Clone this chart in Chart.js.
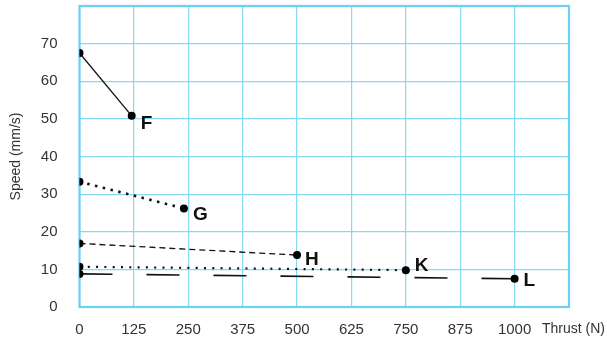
<!DOCTYPE html>
<html>
<head>
<meta charset="utf-8">
<script src="https://cdn.jsdelivr.net/npm/chart.js@4.4.0/dist/chart.umd.min.js"></script>
<style>
  html, body { margin: 0; padding: 0; background: #fff; }
  #wrap { width: 607px; height: 343px; }
</style>
</head>
<body>
<div id="wrap"><canvas id="speedChart"></canvas></div>
<script>
// data
var seriesNames = ["F", "G", "H", "K", "L"];
var thrustF = [0, 120];
var speedF = [67.5, 50.8];
var thrustG = [0, 240];
var speedG = [33.3, 26.2];
var thrustH = [0, 500];
var speedH = [16.9, 13.8];
var thrustK = [0, 750];
var speedK = [10.7, 9.8];
var thrustL = [0, 1000];
var speedL = [8.8, 7.5];
var xTicks = [0, 125, 250, 375, 500, 625, 750, 875, 1000];

var FONT = "'Liberation Sans', Arial, sans-serif";
var gridBlue = '#86d8f7';
var frameBlue = '#6ccff4';

function pts(xs, ys) {
    return xs.map(function (x, i) { return { x: x, y: ys[i] }; });
}

// line style for each series, and where its letter sits next to the end point
var lineStyles = {
    F: { dash: [], width: 1.3, lx: 9, ly: 8 },
    G: { dash: [2.5, 5.5], width: 2.6, lx: 9, ly: 6 },
    H: { dash: [6, 4], width: 1.3, lx: 8, ly: 5 },
    K: { dash: [2, 6.3], width: 2.2, lx: 9, ly: -4 },
    L: { dash: [33, 34], width: 1.6, lx: 9, ly: 2 }
};
var allData = { F: pts(thrustF, speedF), G: pts(thrustG, speedG), H: pts(thrustH, speedH), K: pts(thrustK, speedK), L: pts(thrustL, speedL) };

var endLabels = {
    id: 'endLabels',
    afterDatasetsDraw: function (chart) {
        var c = chart.ctx;
        c.save();
        c.font = "bold 19px 'Liberation Sans', Arial, sans-serif";
        c.fillStyle = '#111';
        c.textBaseline = 'middle';
        chart.data.datasets.forEach(function (ds, i) {
            var meta = chart.getDatasetMeta(i);
            var last = meta.data[meta.data.length - 1];
            var st = lineStyles[ds.label];
            c.fillText(ds.label, last.x + st.lx, last.y + st.ly);
        });
        // axis caption in place of the last x tick
        c.font = "14px " + FONT;
        c.fillStyle = '#333';
        c.textAlign = 'left';
        c.fillText('Thrust (N)', chart.chartArea.right - 27, chart.chartArea.bottom + 22);
        c.restore();
    }
};

var frame = {
    id: 'frame',
    beforeDatasetsDraw: function (chart) {
        var a = chart.chartArea, c = chart.ctx;
        c.save();
        c.strokeStyle = frameBlue;
        c.lineWidth = 2.2;
        c.strokeRect(a.left, a.top, a.right - a.left, a.bottom - a.top);
        c.restore();
    }
};

function noEdgePadding(scale) {
    scale.paddingTop = 0;
    scale.paddingBottom = 0;
    scale.paddingLeft = 0;
    scale.paddingRight = 0;
}

var ctx = document.getElementById('speedChart').getContext('2d');
var chart = new Chart(ctx, {
    type: 'line',
    data: {
        datasets: seriesNames.map(function (n) {
            var st = lineStyles[n];
            return {
                label: n,
                data: allData[n],
                borderColor: '#111',
                borderWidth: st.width,
                borderDash: st.dash,
                pointRadius: 4,
                pointBackgroundColor: '#000',
                pointBorderWidth: 0,
                tension: 0
            };
        })
    },
    options: {
        responsive: true,
        maintainAspectRatio: false,
        animation: false,
        layout: { padding: { top: 6, right: 38, left: 8, bottom: 2 } },
        plugins: { legend: { display: false }, tooltip: { enabled: false } },
        scales: {
            x: {
                type: 'linear',
                min: 0,
                max: 1125,
                afterBuildTicks: function (axis) {
                    axis.ticks = xTicks.concat([1125]).map(function (v) { return { value: v }; });
                },
                afterFit: noEdgePadding,
                ticks: {
                    autoSkip: false,
                    maxRotation: 0,
                    padding: 2,
                    color: '#333',
                    font: { family: FONT, size: 15 },
                    callback: function (v) { return v === 1125 ? '' : v; }
                },
                grid: { color: gridBlue, lineWidth: 1.2, drawTicks: true, tickLength: 12, tickColor: 'rgba(0,0,0,0)' },
                border: { display: false }
            },
            y: {
                min: 0,
                max: 80,
                afterFit: noEdgePadding,
                ticks: {
                    stepSize: 10,
                    padding: 4,
                    color: '#333',
                    font: { family: FONT, size: 15 },
                    callback: function (v) { return v === 80 ? '' : v; }
                },
                title: {
                    display: true,
                    text: 'Speed (mm/s)',
                    color: '#333',
                    font: { family: FONT, size: 14 },
                    padding: { top: 0, bottom: 12 }
                },
                grid: { color: gridBlue, lineWidth: 1.2, drawTicks: true, tickLength: 18, tickColor: 'rgba(0,0,0,0)' },
                border: { display: false }
            }
        }
    },
    plugins: [frame, endLabels]
});
</script>
</body>
</html>
